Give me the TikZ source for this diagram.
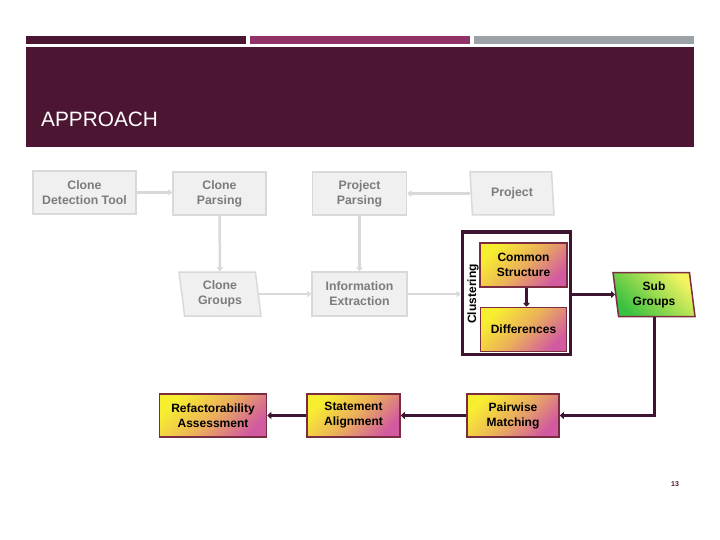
\documentclass[tikz,border=0pt]{standalone}
\usepackage{fontspec}
\setmainfont{Liberation Sans}
\usetikzlibrary{shapes.geometric,arrows.meta}
\definecolor{banner}{HTML}{4C1632}
\definecolor{barmid}{HTML}{913266}
\definecolor{bargray}{HTML}{9BA2A8}
\definecolor{boxgray}{HTML}{F0F0F0}
\definecolor{linegray}{HTML}{D9D9D9}
\definecolor{textgray}{HTML}{7C7C7C}
\definecolor{cborder}{HTML}{7B2D3F}
\definecolor{darkarrow}{HTML}{3D1530}
\definecolor{cyel}{HTML}{F8EE30}
\definecolor{corange}{HTML}{EBB05A}
\definecolor{cpink}{HTML}{D25AA0}
\definecolor{gyel}{HTML}{F4F460}
\definecolor{ggreen}{HTML}{38C040}
\begin{document}
\begin{tikzpicture}[x=1pt,y=-1pt,
  graybox/.style={draw=linegray, line width=1.5pt, fill=boxgray, text=textgray,
    align=center, font=\bfseries\fontsize{12.3}{15}\selectfont, inner sep=0pt},
  graypar/.style={graybox, trapezium, trapezium left angle=102, trapezium right angle=78,
    trapezium stretches body},
  colbox/.style={draw=cborder, line width=1.5pt, top color=cyel, bottom color=cpink,
    middle color=corange, shading angle=45, align=center, inner sep=0pt,
    font=\bfseries\fontsize{12}{15}\selectfont},
  greenpar/.style={draw=cborder, line width=1.5pt, top color=gyel, bottom color=ggreen,
    shading angle=-45, align=center, inner sep=0pt, font=\bfseries\fontsize{12}{15}\selectfont,
    trapezium, trapezium left angle=102, trapezium right angle=78, trapezium stretches body},
  garrow/.style={draw=linegray, line width=2.5pt, -{Triangle[length=4pt,width=6.5pt]}},
  darrow/.style={draw=darkarrow, line width=3pt, -{Triangle[length=4pt,width=7pt]}}
]
\useasboundingbox (0,0) rectangle (720,540);
\fill[white] (0,0) rectangle (720,540);
% banner
\fill[banner] (26,36) rectangle (246,44);
\fill[barmid] (250,36) rectangle (470,44);
\fill[bargray] (474,36) rectangle (694,44);
\fill[banner] (26,47) rectangle (694,147);
\node[anchor=base west, text=white, inner sep=0pt, font=\fontsize{20.8}{24}\selectfont] (title) at (41,127) {APPROACH};
% gray nodes
\node[graybox, minimum width=103pt, minimum height=43pt] (cdt) at (84.5,192.5) {Clone\\Detection Tool};
\node[graybox, minimum width=93pt, minimum height=43pt] (cp) at (219.5,193.5) {Clone\\Parsing};
\node[graypar, minimum width=82pt, minimum height=44pt] (cg) at (220,294) {Clone\\Groups};
\node[graybox, minimum width=94pt, minimum height=43pt] (pp) at (359.5,193.5) {Project\\Parsing};
\node[graybox, minimum width=95pt, minimum height=44pt] (ie) at (359.5,294) {Information\\Extraction};
\node[graypar, minimum width=84pt, minimum height=43pt] (proj) at (512,193.5) {Project};
% clustering
\node[draw=darkarrow, line width=3pt, minimum width=108pt, minimum height=122pt, inner sep=0pt] (clu) at (516,293) {};
\node[rotate=90, font=\bfseries\fontsize{12}{14}\selectfont, inner sep=0pt] (clulabel) at (473,294) {Clustering};
\node[colbox, minimum width=87pt, minimum height=44pt] (cs) at (523.5,265) {Common\\Structure};
\node[colbox, minimum width=86pt, minimum height=44pt] (diff) at (523.5,329.5) {Differences};
\node[greenpar, minimum width=82pt, minimum height=44pt] (sg) at (654,294.5) {Sub\\Groups};
\node[colbox, minimum width=92pt, minimum height=43pt] (pm) at (513,415.5) {Pairwise\\Matching};
\node[colbox, minimum width=93pt, minimum height=43pt] (sa) at (353.5,415.5) {Statement\\Alignment};
\node[colbox, minimum width=107pt, minimum height=43pt] (ra) at (213,415.5) {Refactorability\\Assessment};
% gray arrows
\draw[garrow] (cdt.east) -- (cdt.east -| cp.west);
\draw[garrow] (cp) -- (cg);
\draw[garrow] (cg.east) -- (cg.east -| ie.west);
\draw[garrow] (proj.west) -- (proj.west -| pp.east);
\draw[garrow] (pp) -- (ie);
\draw[garrow] (ie.east) -- (ie.east -| clu.west);
% dark arrows
\draw[darrow] ([xshift=3pt]cs.south) -- ([xshift=3pt]diff.north);
\draw[darrow] (sg.west -| clu.east) -- (sg.west);
\draw[darrow] (sg.south) |- (pm.east);
\draw[darrow] (pm) -- (sa);
\draw[darrow] (sa) -- (ra);
% page number
\node[text=banner, font=\bfseries\fontsize{7}{8}\selectfont, inner sep=0pt] (pnum) at (675,484) {13};
\end{tikzpicture}
\end{document}
